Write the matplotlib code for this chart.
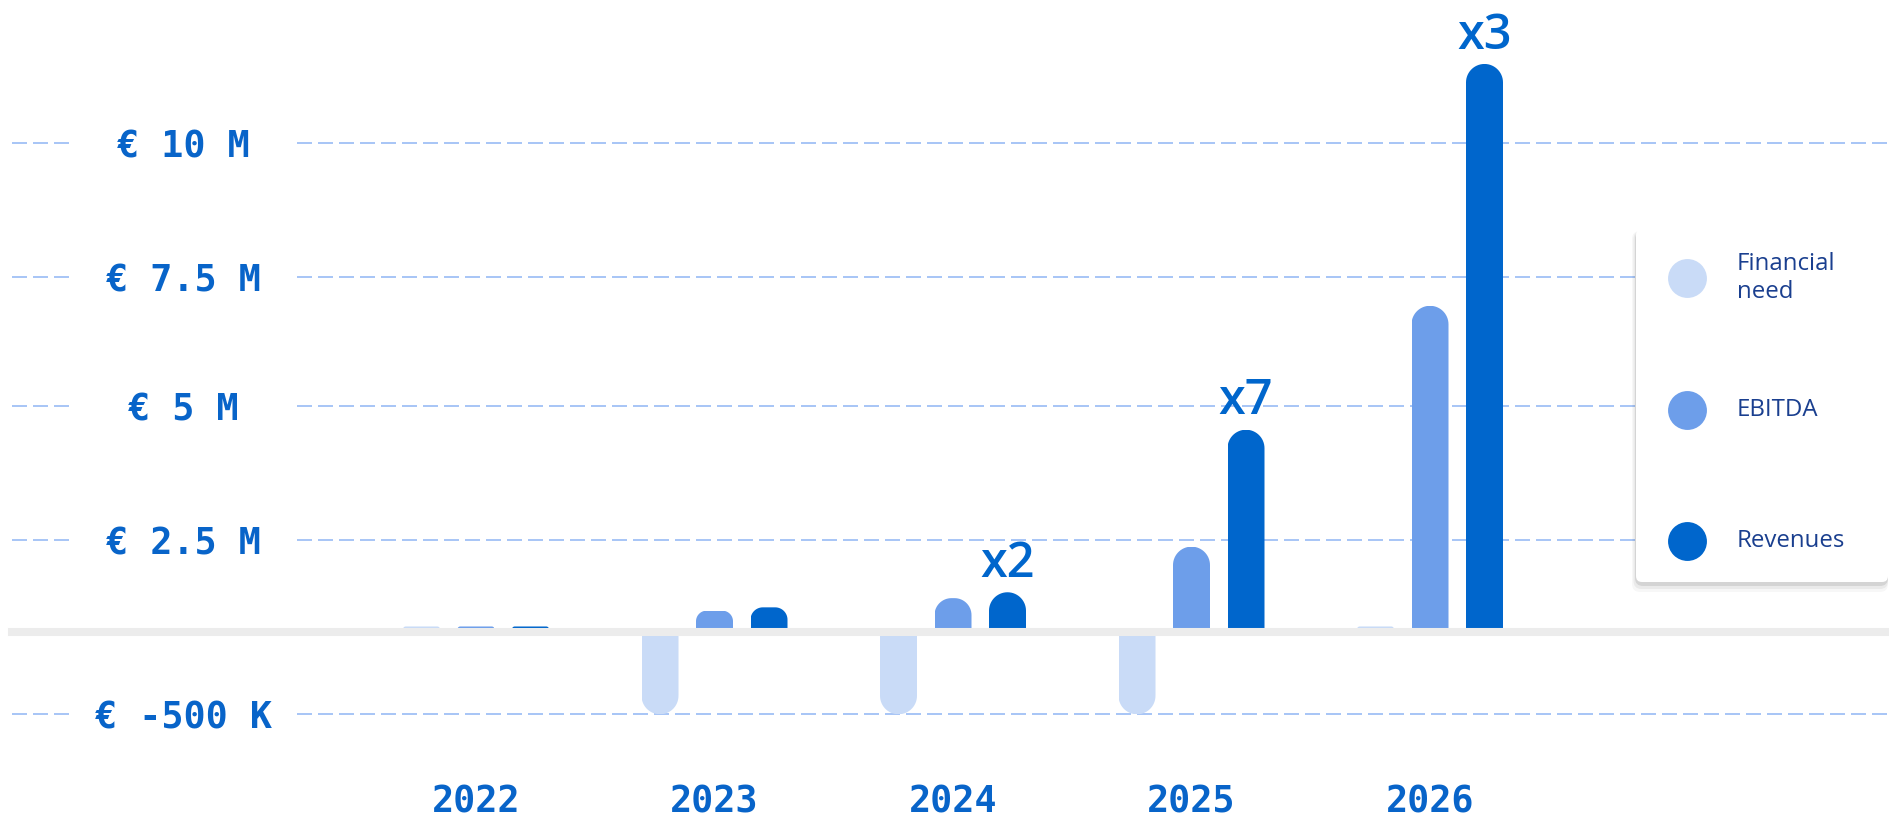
#!/usr/bin/env python3
"""Financial need / EBITDA / Revenues per year, rounded bars on a piecewise y scale."""
import numpy as np
import matplotlib
matplotlib.use("Agg")
import matplotlib.pyplot as plt
from matplotlib.patches import FancyBboxPatch
from matplotlib.path import Path
from matplotlib.transforms import IdentityTransform

# ---- data (EUR millions) ----
YEARS = ["2022", "2023", "2024", "2025", "2026"]
FINANCIAL_NEED = [0.15, -0.5, -0.5, -0.5, 0.15]
EBITDA = [0.15, 0.58, 0.92, 2.32, 6.94]
REVENUES = [0.15, 0.67, 1.08, 4.55, 11.46]
GROWTH = ["", "", "x2", "x7", "x3"]

Y_TICKS = [-0.5, 2.5, 5, 7.5, 10]
Y_TICK_LABELS = ["€ -500 K", "€ 2.5 M", "€ 5 M", "€ 7.5 M", "€ 10 M"]

SERIES_NAMES = ["Financial need", "EBITDA", "Revenues"]
LEGEND_LABELS = ["Financial\nneed", "EBITDA", "Revenues"]
COLORS = ["#c9dbf7", "#6d9eea", "#0066cc"]

# ---- layout ----
W, H = 1889, 823
TEXT_BLUE = "#0864c9"
GRID_BLUE = "#a9c6f6"
MONO = ["DejaVu Sans Mono"]
SANS = ["Open Sans", "DejaVu Sans"]

# the original axis is not linear: each gridline band has its own height
KNOT_V = [-5, -0.5, 0, 2.5, 5, 7.5, 10, 30]
KNOT_U = [-632, 108.7, 191, 283, 417.5, 546, 680.5, 1756.5]


def fwd(v):
    return np.interp(v, KNOT_V, KNOT_U)


def inv(u):
    return np.interp(u, KNOT_U, KNOT_V)


def capped(x0, x1, y_far, y_near, r, up):
    """Outline with round corners (radius r) on the far end of a bar, display px."""
    s = 1 if up else -1
    t = np.linspace(0, np.pi / 2, 16)
    left = np.column_stack([x0 + r - r * np.cos(t), y_far - s * r + s * r * np.sin(t)])
    right = np.column_stack([x1 - r + r * np.sin(t), y_far - s * r + s * r * np.cos(t)])
    verts = np.vstack([[[x0, y_near]], left, right, [[x1, y_near], [x0, y_near]]])
    return Path(verts, closed=True)


GROUP0, GROUP_STEP = 476, 238.5      # px of first group centre, px between groups
BAR_W = 37 / GROUP_STEP
BAR_OFF = 54.5 / GROUP_STEP

fig = plt.figure(figsize=(W / 100, H / 100), dpi=100)
ax = fig.add_axes([0, 0, 1, 1])
ax.set_yscale("function", functions=(fwd, inv))
ax.set_xlim(-GROUP0 / GROUP_STEP, (W - GROUP0) / GROUP_STEP)
ax.set_ylim(inv(0), inv(H))
for s in ax.spines.values():
    s.set_visible(False)
ax.set_facecolor("white")

# dashed gridlines, broken where the tick labels sit
ytf = ax.get_yaxis_transform()
dash = (0, (7.5, 3))
ax.hlines(Y_TICKS, 12 / W, 72 / W, transform=ytf, color=GRID_BLUE, lw=1.44, linestyle=dash, zorder=1)
ax.hlines(Y_TICKS, 297 / W, 1.0, transform=ytf, color=GRID_BLUE, lw=1.44, linestyle=dash, zorder=1)

x = np.arange(len(YEARS))
for k, (name, vals, col) in enumerate(zip(SERIES_NAMES, [FINANCIAL_NEED, EBITDA, REVENUES], COLORS)):
    bars = ax.bar(x + (k - 1) * BAR_OFF, vals, width=BAR_W, color=col, label=name, zorder=2)
    # round the far end of every bar
    for rect, v in zip(bars, vals):
        bb = rect.get_window_extent()
        r = min(bb.width / 2, bb.height / 2)
        if v >= 0:
            clip = capped(bb.x0, bb.x1, bb.y1, bb.y0 - 60, r, True)
        else:
            clip = capped(bb.x0, bb.x1, bb.y0, bb.y1 + 60, r, False)
        rect.set_clip_path(clip, IdentityTransform())

# zero line
ax.axhline(0, xmin=12 / W, xmax=1, color="#ececec", lw=5.8, zorder=3)

# growth labels above revenues
for i, g in enumerate(GROWTH):
    if g:
        ax.annotate(g, xy=(i + BAR_OFF, REVENUES[i]), xytext=(0, 11), textcoords="offset points",
                    ha="center", va="baseline", fontsize=35, color="#0066cc",
                    family=SANS, weight="semibold", zorder=4)

# ticks drawn inside the full-figure axes
ax.set_xticks(x, YEARS)
ax.set_yticks(Y_TICKS, Y_TICK_LABELS)
ax.minorticks_off()
ax.tick_params(axis="x", length=0, pad=-1.5)
ax.tick_params(axis="y", length=0, pad=-131.8)
for lab in ax.get_xticklabels():
    lab.set(family=MONO, weight="bold", fontsize=26.5, color=TEXT_BLUE, va="bottom")
for lab in ax.get_yticklabels():
    lab.set(family=MONO, weight="bold", fontsize=26.5, color=TEXT_BLUE, ha="center", va="center_baseline")

# legend card (pixel coordinates, y down)
lax = fig.add_axes([0, 0, 1, 1], zorder=5)
lax.set_xlim(0, W)
lax.set_ylim(H, 0)
lax.axis("off")
bx, by, bw, bh = 1636, 229, 252, 353
for grow, a in [(8, 0.03), (5, 0.05), (2, 0.09)]:
    lax.add_patch(FancyBboxPatch((bx - grow / 2, by + 2), bw + grow / 2, bh + grow,
                                 boxstyle="round,pad=0,rounding_size=8", fc="black", ec="none", alpha=a))
lax.add_patch(FancyBboxPatch((bx, by), bw, bh, boxstyle="round,pad=0,rounding_size=6",
                             fc="white", ec="none"))
for yy, lab, col in zip([278, 410, 541], LEGEND_LABELS, COLORS):
    lax.plot(1687, yy, "o", ms=28, color=col, mec="none")
    lax.text(1737, yy, lab, ha="left", va="center", fontsize=17.3, color="#1a3f8f",
             family=SANS, linespacing=1.2)

fig.savefig("out.png", dpi=100, facecolor="white")
